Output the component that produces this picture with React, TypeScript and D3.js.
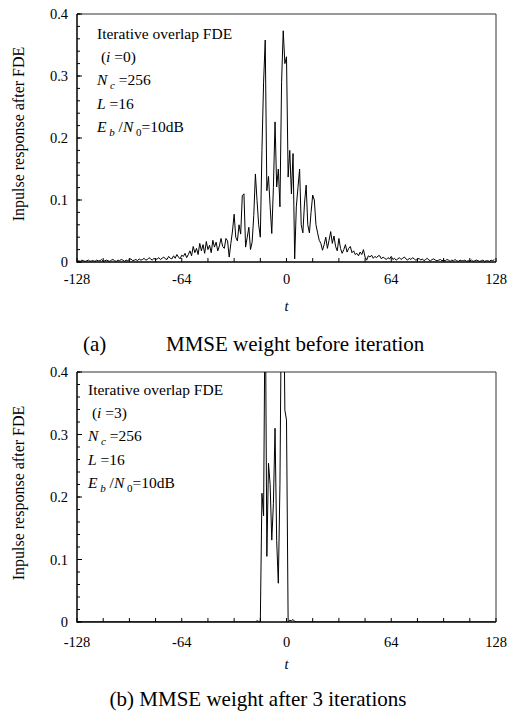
import * as d3 from 'd3';
import { useEffect, useRef } from 'react';

// t axis runs from -128 to 127, one sample per chip
const tStart = -128;
const tTicks = [-128, -64, 0, 64, 128];
const tTickLabels = ['-128', '-64', '0', '64', '128'];
const yTicks = [0, 0.1, 0.2, 0.3, 0.4];
const yTickLabels = ['0', '0.1', '0.2', '0.3', '0.4'];

// (a) before iteration, i=0
const responseI0 = [
  0.001, 0.002, 0.001, 0.003, 0.002, 0.001, 0.002, 0.003, 0.001, 0.002, 0.002, 0.001, 0.003, 0.002, 0.002, 0.004,
  0.001, 0.002, 0.003, 0.002, 0.001, 0.003, 0.004, 0.002, 0.001, 0.003, 0.002, 0.004, 0.003, 0.001, 0.003, 0.002,
  0.004, 0.005, 0.002, 0.003, 0.004, 0.002, 0.005, 0.003, 0.004, 0.006, 0.003, 0.004, 0.007, 0.005, 0.003, 0.006,
  0.004, 0.005, 0.007, 0.004, 0.006, 0.008, 0.005, 0.004, 0.009, 0.006, 0.005, 0.010, 0.006, 0.012, 0.008, 0.005,
  0.011, 0.009, 0.014, 0.007, 0.012, 0.018, 0.010, 0.025, 0.015, 0.022, 0.012, 0.030, 0.018, 0.028, 0.014, 0.033,
  0.020, 0.027, 0.015, 0.035, 0.024, 0.032, 0.018, 0.026, 0.038, 0.025, 0.022, 0.038, 0.034, 0.008, 0.030, 0.050,
  0.077, 0.040, 0.034, 0.060, 0.045, 0.107, 0.110, 0.024, 0.040, 0.056, 0.020, 0.032, 0.075, 0.142, 0.099, 0.060,
  0.040, 0.180, 0.290, 0.358, 0.115, 0.138, 0.090, 0.046, 0.120, 0.226, 0.121, 0.150, 0.089, 0.290, 0.373, 0.320,
  0.331, 0.137, 0.180, 0.110, 0.175, 0.005, 0.089, 0.120, 0.150, 0.060, 0.047, 0.095, 0.124, 0.060, 0.047, 0.080,
  0.108, 0.100, 0.060, 0.047, 0.035, 0.030, 0.019, 0.028, 0.040, 0.022, 0.035, 0.049, 0.030, 0.042, 0.025, 0.018,
  0.038, 0.022, 0.014, 0.020, 0.028, 0.016, 0.022, 0.025, 0.015, 0.018, 0.012, 0.014, 0.010, 0.016, 0.012, 0.020,
  0.008, 0.003, 0.010, 0.008, 0.011, 0.006, 0.009, 0.007, 0.010, 0.010, 0.005, 0.008, 0.006, 0.004, 0.007, 0.005,
  0.009, 0.004, 0.006, 0.003, 0.005, 0.007, 0.004, 0.006, 0.008, 0.005, 0.003, 0.006, 0.004, 0.007, 0.005, 0.003,
  0.004, 0.006, 0.003, 0.005, 0.002, 0.004, 0.006, 0.003, 0.002, 0.004, 0.005, 0.003, 0.002, 0.003, 0.004, 0.002,
  0.003, 0.002, 0.004, 0.003, 0.001, 0.003, 0.002, 0.004, 0.002, 0.001, 0.003, 0.002, 0.002, 0.003, 0.001, 0.002,
  0.002, 0.003, 0.001, 0.002, 0.003, 0.002, 0.001, 0.002, 0.003, 0.001, 0.002, 0.002, 0.001, 0.003, 0.002, 0.004,
];

// (b) after 3 iterations, i=3 (peaks go past the top of the frame)
const responseI3 = [
  0, 0, 0, 0, 0, 0, 0, 0, 0, 0, 0, 0, 0, 0, 0, 0,
  0, 0, 0, 0, 0, 0, 0, 0, 0, 0, 0, 0, 0, 0, 0, 0,
  0, 0, 0, 0, 0, 0, 0, 0, 0, 0, 0, 0, 0, 0, 0, 0,
  0, 0, 0, 0, 0, 0, 0, 0, 0, 0, 0, 0, 0, 0, 0, 0,
  0, 0, 0, 0, 0, 0, 0, 0, 0, 0, 0, 0, 0, 0, 0, 0,
  0, 0, 0, 0, 0, 0, 0, 0, 0, 0, 0, 0, 0, 0, 0, 0,
  0, 0, 0, 0, 0, 0, 0, 0, 0, 0, 0, 0, 0, 0, 0.002, 0.001,
  0, 0.206, 0.170, 0.55, 0.105, 0.254, 0.220, 0.131, 0.190, 0.310, 0.130, 0.062, 0.220, 0.55, 0.60, 0.339,
  0.323, 0, 0.003, 0.002, 0.004, 0.001, 0, 0, 0, 0, 0, 0, 0, 0, 0, 0,
  0, 0, 0, 0, 0, 0, 0, 0, 0, 0, 0, 0, 0, 0, 0, 0,
  0, 0, 0, 0, 0, 0, 0, 0, 0, 0, 0, 0, 0, 0, 0, 0,
  0, 0, 0, 0, 0, 0, 0, 0, 0, 0, 0, 0, 0, 0, 0, 0,
  0, 0, 0, 0, 0, 0, 0, 0, 0, 0, 0, 0, 0, 0, 0, 0,
  0, 0, 0, 0, 0, 0, 0, 0, 0, 0, 0, 0, 0, 0, 0, 0,
  0, 0, 0, 0, 0, 0, 0, 0, 0, 0, 0, 0, 0, 0, 0, 0,
  0, 0, 0, 0, 0, 0, 0, 0, 0, 0, 0, 0, 0, 0, 0, 0,
];

const yLabel = 'Inpulse response after FDE';
const xLabel = 't';
const iterations = ['0', '3'];

const FONT = '"Liberation Serif", "Times New Roman", serif';

type Seg = { text: string; italic?: boolean; sub?: boolean };

function App() {
  const ref = useRef<SVGSVGElement | null>(null);

  useEffect(() => {
    const svg = d3.select(ref.current);
    svg.selectAll('*').remove();

    const x = d3.scaleLinear().domain([-128, 128]).range([77, 496]);

    // 画一个面板
    function drawPanel(opt: {
      id: string; top: number; bottom: number; data: number[]; iter: string;
      tickY: number; xLabY: number; textX: number; textY: number; caption: () => void;
    }) {
      const y = d3.scaleLinear().domain([0, 0.4]).range([opt.bottom, opt.top]);
      const g = svg.append('g').attr('font-family', FONT).attr('fill', '#000');

      g.append('clipPath').attr('id', opt.id)
        .append('rect')
        .attr('x', x(-128)).attr('y', opt.top)
        .attr('width', x(128) - x(-128)).attr('height', opt.bottom - opt.top);

      // frame
      g.append('line').attr('x1', x(-128)).attr('x2', x(128)).attr('y1', opt.top).attr('y2', opt.top)
        .attr('stroke', '#333').attr('stroke-width', 1);
      g.append('line').attr('x1', x(128)).attr('x2', x(128)).attr('y1', opt.top).attr('y2', opt.bottom)
        .attr('stroke', '#333').attr('stroke-width', 1);

      // minor / major y ticks (inside)
      g.selectAll('.ymin').data(y.ticks(20)).join('line')
        .attr('x1', x(-128)).attr('x2', x(-128) + 3)
        .attr('y1', d => y(d)).attr('y2', d => y(d))
        .attr('stroke', '#000');
      g.selectAll('.ymaj').data(yTicks).join('line')
        .attr('x1', x(-128)).attr('x2', x(-128) + 5)
        .attr('y1', d => y(d)).attr('y2', d => y(d))
        .attr('stroke', '#000');
      // x ticks every 16
      g.selectAll('.xmin').data(d3.range(-128, 129, 16)).join('line')
        .attr('x1', d => x(d)).attr('x2', d => x(d))
        .attr('y1', opt.bottom).attr('y2', opt.bottom - 4)
        .attr('stroke', '#000');

      g.append('path')
        .datum(opt.data)
        .attr('clip-path', `url(#${opt.id})`)
        .attr('fill', 'none')
        .attr('stroke', '#000')
        .attr('stroke-width', 1)
        .attr('stroke-linejoin', 'miter')
        .attr('d', d3.line<number>().x((d, i) => x(tStart + i)).y(d => y(d)));

      // axes lines (left + bottom, heavier)
      g.append('line').attr('x1', x(-128)).attr('x2', x(-128)).attr('y1', opt.top).attr('y2', opt.bottom + 0.75)
        .attr('stroke', '#000').attr('stroke-width', 1.5);
      g.append('line').attr('x1', x(-128)).attr('x2', x(128)).attr('y1', opt.bottom).attr('y2', opt.bottom)
        .attr('stroke', '#000').attr('stroke-width', 1.5);

      // tick labels
      g.selectAll('.ylab').data(yTicks).join('text')
        .attr('x', 68).attr('y', d => y(d)).attr('dy', '0.35em')
        .attr('text-anchor', 'end').attr('font-size', 14.5)
        .text((d, i) => yTickLabels[i]);
      g.selectAll('.xlab').data(tTicks).join('text')
        .attr('x', d => x(d)).attr('y', opt.tickY)
        .attr('text-anchor', 'middle').attr('font-size', 14.5)
        .text((d, i) => tTickLabels[i]);

      g.append('text').attr('x', x(0)).attr('y', opt.xLabY)
        .attr('text-anchor', 'middle').attr('font-size', 14.5).attr('font-style', 'italic')
        .text(xLabel);

      g.append('text')
        .attr('transform', `translate(24,${(opt.top + opt.bottom) / 2 - 4}) rotate(-90)`)
        .attr('text-anchor', 'middle').attr('font-size', 16)
        .text(yLabel);

      // annotation block
      const lines: Seg[][] = [
        [{ text: 'Iterative overlap FDE' }],
        [{ text: '\u00a0(' }, { text: 'i', italic: true }, { text: '\u00a0=' + opt.iter + ')' }],
        [{ text: 'N', italic: true }, { text: '\u00a0c', italic: true, sub: true }, { text: '\u00a0=256' }],
        [{ text: 'L', italic: true }, { text: '\u00a0=16' }],
        [{ text: 'E', italic: true }, { text: '\u00a0b', italic: true, sub: true }, { text: '\u00a0/' },
          { text: 'N', italic: true }, { text: '\u00a00', sub: true }, { text: '=10dB' }],
      ];
      lines.forEach((segs, li) => {
        const t = g.append('text')
          .attr('x', opt.textX).attr('y', opt.textY + li * 23.2)
          .attr('font-size', 15.5);
        let low = false;
        segs.forEach(s => {
          const ts = t.append('tspan').text(s.text);
          if (s.italic) ts.attr('font-style', 'italic');
          if (s.sub && !low) { ts.attr('dy', 4).attr('font-size', 11); low = true; }
          else if (s.sub) { ts.attr('font-size', 11); }
          else if (low) { ts.attr('dy', -4); low = false; }
        });
      });

      opt.caption();
    }

    drawPanel({
      id: 'clipA', top: 14, bottom: 262, data: responseI0, iter: iterations[0],
      tickY: 284, xLabY: 311, textX: 97, textY: 39,
      caption: () => {
        const c = svg.append('g').attr('font-family', FONT).attr('font-size', 21);
        c.append('text').attr('x', 83).attr('y', 351).text('(a)');
        c.append('text').attr('x', 166).attr('y', 351).text('MMSE weight before iteration');
      },
    });

    drawPanel({
      id: 'clipB', top: 372, bottom: 622, data: responseI3, iter: iterations[1],
      tickY: 647, xLabY: 669, textX: 88, textY: 395,
      caption: () => {
        svg.append('text').attr('font-family', FONT).attr('font-size', 21)
          .attr('x', 258).attr('y', 706).attr('text-anchor', 'middle')
          .text('(b) MMSE weight after 3 iterations');
      },
    });
  }, []);

  return (
    <svg ref={ref} width={509} height={715}
      style={{ position: 'absolute', left: 0, top: 0, background: '#fff' }} />
  );
}

export default App;
